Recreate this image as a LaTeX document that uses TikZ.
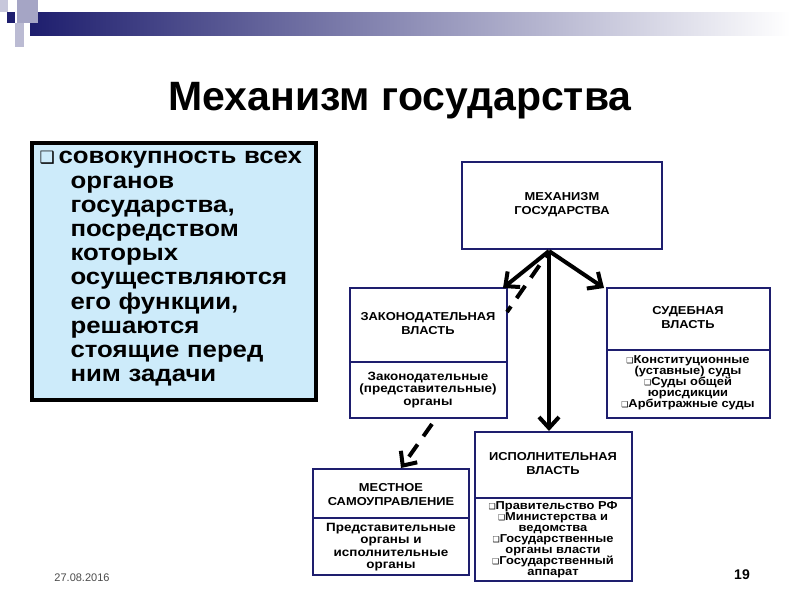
\documentclass[tikz,border=0pt]{standalone}
\usepackage{fontspec}
\setmainfont{Liberation Sans}
\newfontfamily\wide[FakeStretch=1.12]{Liberation Sans}
\newfontfamily\dv{DejaVu Sans}
\usetikzlibrary{arrows.meta}
\definecolor{navy}{RGB}{30,30,110}
\definecolor{lblue}{RGB}{205,235,250}
\newcommand{\bx}{{\dv\fontsize{8}{8}\selectfont ❑}}
\tikzset{
  box/.style={draw=navy,line width=2pt,fill=white},
  hd/.style={font=\wide\bfseries\fontsize{11.5}{14}\selectfont,align=center,text=black},
  bd/.style={font=\wide\bfseries\fontsize{12}{12.5}\selectfont,align=center,text=black},
  sb/.style={font=\wide\bfseries\fontsize{11.5}{11}\selectfont,align=center,text=black},
  arr/.style={line width=4pt,-{Straight Barb[length=11pt,width=20pt,line width=4pt]}},
  darr/.style={arr,dash pattern=on 15pt off 10pt}
}
\begin{document}
\begin{tikzpicture}[x=1pt,y=-1pt]
\useasboundingbox (0,0) rectangle (800,600);
\fill[white] (0,0) rectangle (800,600);
% header
\shade[left color=navy,right color=white] (30,12) rectangle (790,35);
\fill[navy!40] (17,0) rectangle (38,23);
\fill[navy!25] (0,0) rectangle (8,12);
\fill[navy!30] (15,23) rectangle (24,47);
\fill[navy] (7,12) rectangle (15,23);
% title
\node (title) at (400,101) {\bfseries\fontsize{41}{44}\selectfont Механизм государства};
% left box
\draw[line width=4pt,fill=lblue] (32,143) rectangle (316,400);
\node (ltext) [anchor=north west,align=left,font=\wide\bfseries\fontsize{23}{24.2}\selectfont,text width=300pt] at (36,148)
 {{\dv\fontsize{17}{17}\selectfont ❑}\,совокупность всех\\\hspace*{31pt}органов\\\hspace*{31pt}государства,\\\hspace*{31pt}посредством\\\hspace*{31pt}которых\\\hspace*{31pt}осуществляются\\\hspace*{31pt}его функции,\\\hspace*{31pt}решаются\\\hspace*{31pt}стоящие перед\\\hspace*{31pt}ним задачи};
% boxes
\draw[box] (462,162) rectangle (662,249);
\node (mech) [hd] at (562,205) {МЕХАНИЗМ\\ГОСУДАРСТВА};
\draw[box] (350,288) rectangle (507,418); \draw[box] (350,362)--(507,362);
\node (zak) [hd] at (428,324) {ЗАКОНОДАТЕЛЬНАЯ\\ВЛАСТЬ};
\node (zakb) [bd] at (428,390) {Законодательные\\(представительные)\\органы};
\draw[box] (607,288) rectangle (770,418); \draw[box] (607,350)--(770,350);
\node (sud) [hd] at (688,318) {СУДЕБНАЯ\\ВЛАСТЬ};
\node (sudb) [sb] at (688,383) {\bx Конституционные\\(уставные) суды\\\bx Суды общей\\юрисдикции\\\bx Арбитражные суды};
\draw[box] (475,432) rectangle (632,581); \draw[box] (475,498)--(632,498);
\node (isp) [hd] at (553,464) {ИСПОЛНИТЕЛЬНАЯ\\ВЛАСТЬ};
\node (ispb) [sb] at (553,540) {\bx Правительство РФ\\\bx Министерства и\\ведомства\\\bx Государственные\\органы власти\\\bx Государственный\\аппарат};
\draw[box] (313,469) rectangle (469,575); \draw[box] (313,518)--(469,518);
\node (mest) [hd] at (391,495) {МЕСТНОЕ\\САМОУПРАВЛЕНИЕ};
\node (mestb) [bd] at (391,547) {Представительные\\органы и\\исполнительные\\органы};
% arrows
\coordinate (top) at (549,251);
\coordinate (zakT) at (503,288);
\coordinate (sudT) at (604,288);
\coordinate (ispT) at (549,431);
\draw[arr] (top) -- (zakT);
\draw[arr] (top) -- (sudT);
\draw[arr] (top) -- (ispT);
\coordinate (d1s) at (548,253);
\coordinate (d1e) at (507,312);
\draw[line width=4pt,dash pattern=on 15pt off 10pt,dash phase=10pt] (d1s) -- (d1e);
\coordinate (d2s) at (432,424);
\coordinate (d2e) at (401,468);
\draw[darr] (d2s) -- (d2e);
% footer
\node (date) [font=\fontsize{11}{13}\selectfont,text=black!70] at (82,578) {27.08.2016};
\node (num) [font=\bfseries\fontsize{14}{16}\selectfont] at (742,575) {19};
\end{tikzpicture}
\end{document}
